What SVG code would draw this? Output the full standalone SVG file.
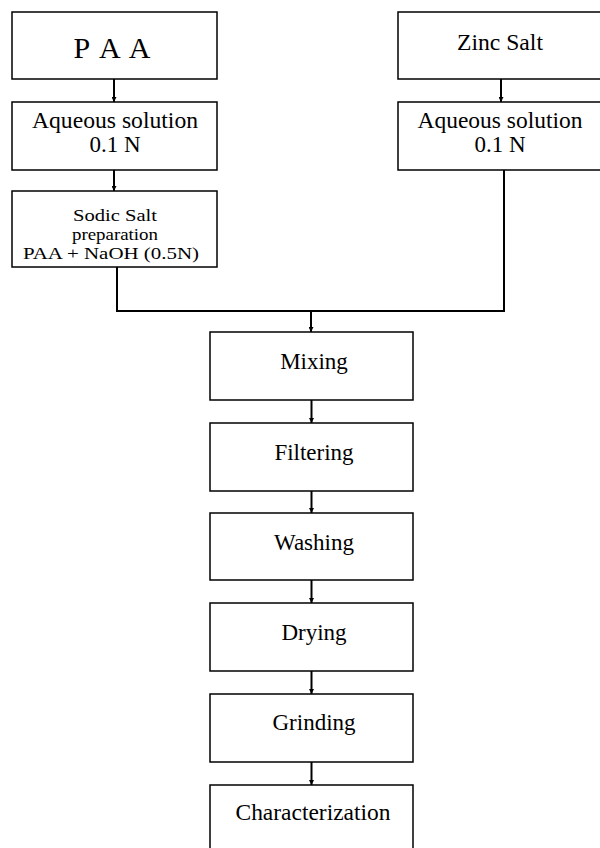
<svg xmlns="http://www.w3.org/2000/svg" width="600" height="848" viewBox="0 0 600 848">
<defs>
<marker id="ah" viewBox="0 0 8 8" refX="8" refY="4" markerWidth="5" markerHeight="5" orient="auto" markerUnits="userSpaceOnUse">
<path d="M0,0 L8,4 L0,8 z" fill="#000"/>
</marker>
<style>
.box{fill:#fff;stroke:#000;stroke-width:1.5}
.t{font-family:"Liberation Serif","Times New Roman",serif;fill:#000;text-anchor:middle;font-size:23px}
.s{font-size:17.5px}
.c{fill:none;stroke:#000;stroke-width:2}
</style>
</defs>
<rect width="600" height="848" fill="#fff"/>
<g id="paa"><rect class="box" x="12" y="12" width="205" height="67"/><text class="t" x="113" y="58" style="font-size:30px;letter-spacing:2px">P A A</text></g>
<g id="aq-left"><rect class="box" x="12" y="102" width="205" height="68"/><text class="t" x="115" y="128" textLength="166" lengthAdjust="spacingAndGlyphs">Aqueous solution</text><text class="t" x="115" y="152">0.1 N</text></g>
<g id="sodic"><rect class="box" x="12" y="191" width="205" height="76"/><text class="t s" x="115" y="221" textLength="84" lengthAdjust="spacingAndGlyphs">Sodic Salt</text><text class="t s" x="115" y="240" textLength="86" lengthAdjust="spacingAndGlyphs">preparation</text><text class="t s" x="111" y="259" textLength="176" lengthAdjust="spacingAndGlyphs">PAA + NaOH (0.5N)</text></g>
<g id="zinc"><rect class="box" x="398" y="12" width="205" height="67"/><text class="t" x="500" y="50" textLength="86" lengthAdjust="spacingAndGlyphs">Zinc Salt</text></g>
<g id="aq-right"><rect class="box" x="398" y="102" width="205" height="68"/><text class="t" x="500" y="128" textLength="165" lengthAdjust="spacingAndGlyphs">Aqueous solution</text><text class="t" x="500" y="152">0.1 N</text></g>
<g id="mixing"><rect class="box" x="210" y="332" width="203" height="68"/><text class="t" x="314" y="369">Mixing</text></g>
<g id="filtering"><rect class="box" x="210" y="423" width="203" height="68"/><text class="t" x="314" y="460">Filtering</text></g>
<g id="washing"><rect class="box" x="210" y="513" width="203" height="67"/><text class="t" x="314" y="550">Washing</text></g>
<g id="drying"><rect class="box" x="210" y="603" width="203" height="68"/><text class="t" x="314" y="640">Drying</text></g>
<g id="grinding"><rect class="box" x="210" y="694" width="203" height="68"/><text class="t" x="314" y="730">Grinding</text></g>
<g id="characterization"><rect class="box" x="210" y="785" width="203" height="70"/><text class="t" x="313" y="820" textLength="155" lengthAdjust="spacingAndGlyphs">Characterization</text></g>
<g id="connectors">
<line class="c" x1="114" y1="79" x2="114" y2="102" marker-end="url(#ah)"/>
<line class="c" x1="114" y1="170" x2="114" y2="191" marker-end="url(#ah)"/>
<line class="c" x1="501" y1="79" x2="501" y2="102" marker-end="url(#ah)"/>
<path class="c" d="M117,267 V311 H504 V170" stroke-width="2.5"/>
<line class="c" x1="311" y1="311" x2="311" y2="332" marker-end="url(#ah)"/>
<line class="c" x1="311.5" y1="400" x2="311.5" y2="423" marker-end="url(#ah)"/>
<line class="c" x1="311.5" y1="491" x2="311.5" y2="513" marker-end="url(#ah)"/>
<line class="c" x1="311.5" y1="580" x2="311.5" y2="603" marker-end="url(#ah)"/>
<line class="c" x1="311.5" y1="671" x2="311.5" y2="694" marker-end="url(#ah)"/>
<line class="c" x1="311.5" y1="762" x2="311.5" y2="785" marker-end="url(#ah)"/>
</g>
</svg>
